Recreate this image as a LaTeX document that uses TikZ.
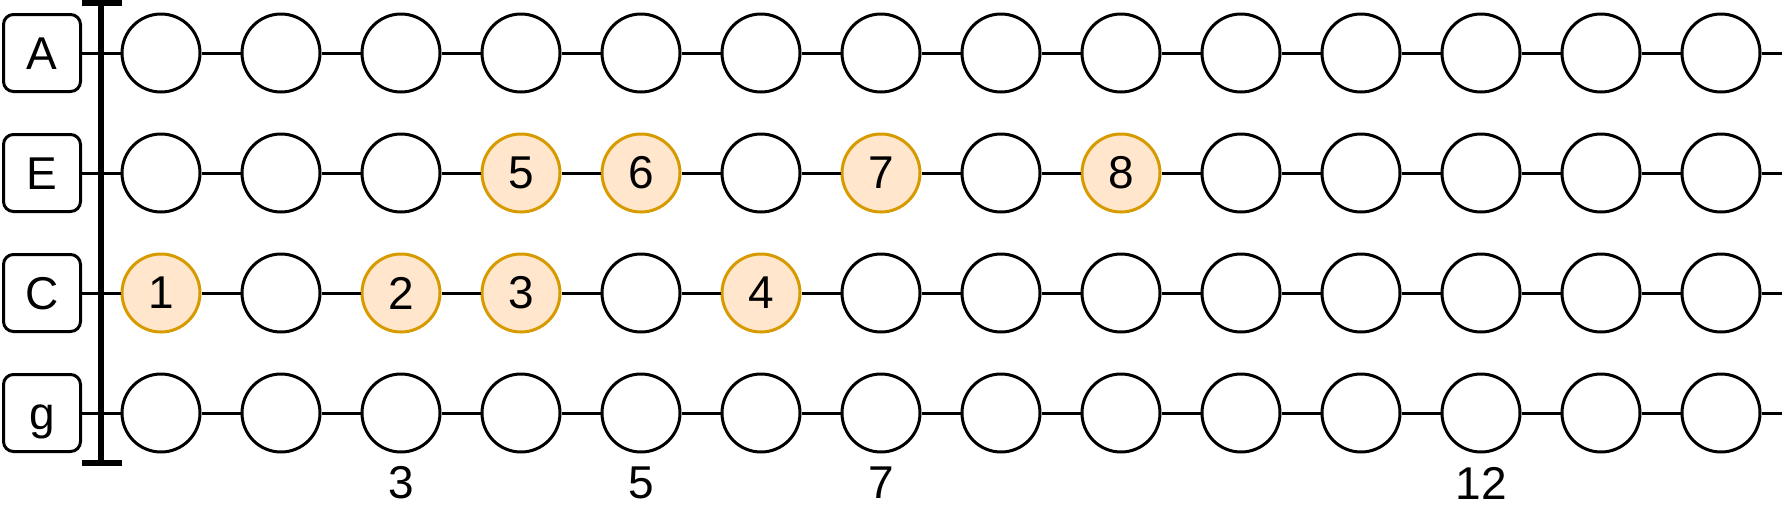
\documentclass[tikz,border=0pt]{standalone}
\usepackage{fontspec}
\setmainfont{Liberation Sans}
\definecolor{noteFill}{HTML}{FFE6CC}
\definecolor{noteLine}{HTML}{D79B00}
\tikzset{
  fret/.style={circle,draw,line width=1.5pt,fill=white,minimum size=39pt,
    inner sep=0pt},
  hl/.style={fill=noteFill,draw=noteLine},
  strbox/.style={draw,line width=1.5pt,rounded corners=5pt,minimum size=38.5pt,
    inner sep=0pt,text height=16.5pt,text depth=0pt},
  every label/.style={font=\fontsize{23}{27}\selectfont},
  % highlighted notes
  cell 1-3/.style={hl,label=center:5},
  cell 1-4/.style={hl,label=center:6},
  cell 1-6/.style={hl,label=center:7},
  cell 1-8/.style={hl,label=center:8},
  cell 2-0/.style={hl,label=center:1},
  cell 2-2/.style={hl,label=center:2},
  cell 2-3/.style={hl,label=center:3},
  cell 2-5/.style={hl,label=center:4}
}
\begin{document}
\begin{tikzpicture}[x=0.5pt,y=-0.5pt,font=\fontsize{23}{27}\selectfont]
  \useasboundingbox (0,0) rectangle (1785,510);
  \foreach \r/\s/\y in {0/A/53,1/E/173,2/C/293,3/g/413} {
    \node[strbox] (s\r) at (42,\y) {\s};
    \foreach \k in {0,...,13}
      \node[fret,cell \r-\k/.try] (n\r-\k) at (161+120*\k,\y) {};
    \coordinate (e\r) at (1782,\y);
    \draw[line width=1.5pt] (s\r) -- (n\r-0);
    \foreach \k [evaluate=\k as \j using int(\k+1)] in {0,...,12}
      \draw[line width=1.5pt] (n\r-\k) -- (n\r-\j);
    \draw[line width=1.5pt] (n\r-13) -- (e\r);
  }
  % nut
  \draw[line width=3pt] (82,3) -- (122,3) (101,3) -- (101,463)
    (82,463) -- (122,463);
  % fret numbers
  \foreach \k/\t in {2/3,4/5,6/7,11/12}
    \node (f\t) at (161+120*\k,483) {\t};
\end{tikzpicture}
\end{document}
